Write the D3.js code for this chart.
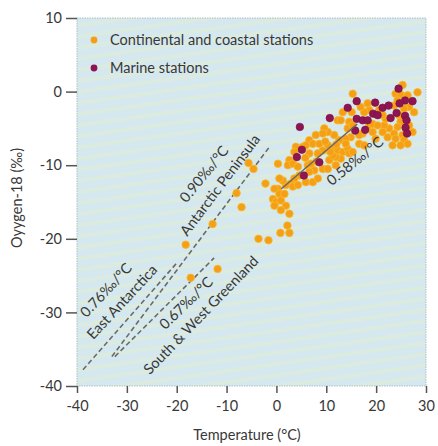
<!DOCTYPE html>
<html>
<head>
<meta charset="utf-8">
<script src="https://cdn.jsdelivr.net/npm/d3@7"></script>
<style>
  body { margin: 0; background: #fff; }
  text { font-family: Lato, "Open Sans", sans-serif; fill: #383838; font-weight: 400; }
</style>
</head>
<body>
<svg id="viz"></svg>
<script>
// --- Data (temperature °C, oxygen-18 ‰) ---
const continental = [
  [-18.2,-20.8],[-17.2,-25.3],[-11.8,-24.1],[-12.8,-18.0],[-5.6,-9.7],[-4.6,-10.5],
  [-2.2,-12.5],[-8.0,-13.8],[-7.0,-15.7],[-3.6,-20.0],[-1.6,-20.2],[0.8,-19.2],
  [2.2,-18.2],[2.6,-19.2],
  [25.3,0.9],[28.3,-0.1],[23.9,-0.3],[24.9,-0.4],[26.3,-0.5],[24.3,-1.2],[23.6,-1.9],
  [26.6,-2.1],[25.6,-2.3],[27.6,-2.8],[24.6,-3.2],[24.9,-4.1],[26.6,-4.6],[24.3,-4.8],
  [27.3,-5.5],[25.3,-5.9],[25.6,-6.6],[26.3,-7.1],[23.6,-5.7],[22.6,-5.0],[21.6,-4.6],
  [21.9,-3.7],[21.3,-3.2],[20.6,-2.5],[18.6,-2.5],[17.6,-2.8],[16.9,-2.1],[18.3,-1.6],
  [15.3,-0.3],[15.1,-2.8],[13.3,-2.8],[12.3,-3.9],[12.9,-3.9],[14.6,-4.1],[14.3,-5.0],
  [15.3,-4.6],[18.6,-4.6],[19.3,-4.4],[20.3,-4.6],[19.3,-5.5],[19.9,-6.4],[21.3,-5.5],
  [22.3,-6.2],[17.3,-5.7],[16.6,-5.9],[14.9,-6.2],[13.9,-6.4],[12.6,-6.6],[11.6,-5.9],
  [10.3,-5.5],[9.6,-5.0],[9.3,-5.7],[7.9,-5.9],[6.6,-6.6],[7.3,-7.1],[8.6,-7.1],
  [10.3,-7.3],[11.3,-7.8],[12.3,-8.0],[13.3,-8.2],[14.3,-7.8],[14.6,-8.4],[12.9,-9.1],
  [11.9,-8.9],[10.6,-9.3],[9.3,-8.0],[8.3,-8.4],[6.6,-8.4],[5.3,-7.5],[3.9,-7.5],
  [3.6,-8.2],[2.6,-9.3],[2.3,-10.0],[0.3,-9.8],[3.3,-9.8],[4.3,-10.2],[6.3,-10.0],
  [6.9,-9.8],[7.6,-10.7],[9.3,-10.5],[10.3,-10.5],[6.6,-10.9],[4.6,-11.4],[3.6,-11.8],
  [2.9,-12.5],[1.9,-12.7],[1.3,-12.1],[0.6,-11.8],[0.3,-13.2],[-0.4,-13.2],[0.6,-13.9],
  [1.6,-13.9],[-0.7,-14.6],[-0.1,-15.0],[-0.4,-15.5],[0.9,-14.8],[1.9,-15.5],[0.9,-16.1],
  [2.6,-16.6],[3.3,-12.9],[4.3,-12.7],[5.9,-12.3],[7.3,-12.3],[8.3,-11.8],[11.9,-10.0],
  [11.3,-8.7],[15.3,-8.2],[13.9,-7.1],[16.6,-7.1],[17.6,-7.3],[23.9,-6.4],[23.3,-7.3],
  [24.9,-7.3],[9.8,-6.8],[8.0,-9.5],[12.0,-7.2],[10.8,-8.2],[5.8,-9.0],[5.9,-7.3]
];

const marine = [
  [24.5,0.4],[16.1,-1.3],[19.8,-1.5],[14.3,-2.2],[21.3,-2.2],[22.5,-1.9],[25.8,-1.2],
  [27.3,-1.3],[24.7,-1.6],[19.4,-3.0],[20.3,-3.2],[24.1,-2.9],[10.7,-3.6],[16.1,-3.7],
  [17.3,-3.9],[18.3,-3.9],[22.9,-3.6],[25.8,-3.3],[26.1,-3.9],[25.9,-4.9],[26.2,-5.7],
  [15.8,-5.3],[17.8,-5.2],[4.7,-4.8],[5.1,-7.9],[4.1,-8.9],[8.6,-9.6],[5.5,-11.4]
];

// gradient lines: [x1, y1, x2, y2]
const eastAntarctica = [-38.8, -37.8, -20, -23.3];
const peninsula = [-33, -36, -1.5, -7.6];
const greenland = [-32.4, -36.0, -12.5, -22.6];
const trend058 = [1, -13.2, 16.2, -4.4];

const xTicks = [-40, -30, -20, -10, 0, 10, 20, 30];
const yTicks = [-40, -30, -20, -10, 0, 10];

const legendItems = ["Continental and coastal stations", "Marine stations"];

// --- Setup ---
const width = 438, height = 446;
const svg = d3.select("#viz").attr("width", width).attr("height", height);

const x = d3.scaleLinear().domain([-40, 30]).range([77, 426]);
const y = d3.scaleLinear().domain([-40, 10]).range([386, 18]);

const defs = svg.append("defs");
const pat = defs.append("pattern")
  .attr("id", "stripes")
  .attr("width", 12).attr("height", 11)
  .attr("patternUnits", "userSpaceOnUse")
  .attr("patternTransform", "rotate(-8)");
pat.append("rect").attr("width", 12).attr("height", 11).attr("fill", "#d5e8ef");
pat.append("rect").attr("y", 1).attr("width", 12).attr("height", 4).attr("fill", "#dcebdf");

// --- Plot background ---
svg.append("rect")
  .attr("x", x(-40)).attr("y", y(10))
  .attr("width", x(30) - x(-40)).attr("height", y(-40) - y(10))
  .attr("fill", "url(#stripes)")
  .attr("stroke", "#aebfc5")
  .attr("stroke-width", 1)
  .attr("stroke-dasharray", "1.5,1");

// --- Axes ---
const yAxis = svg.append("g")
  .attr("transform", `translate(${x(-40)},0)`)
  .call(d3.axisLeft(y).tickValues(yTicks).tickSize(11).tickPadding(4));
const xAxis = svg.append("g")
  .attr("transform", `translate(0,${y(-40)})`)
  .call(d3.axisBottom(x).tickValues(xTicks).tickSize(7).tickPadding(8));

[xAxis, yAxis].forEach(g => {
  g.select(".domain").remove();
  g.selectAll(".tick line").attr("stroke", "#555").attr("stroke-width", 1.5);
  g.selectAll(".tick text")
    .attr("font-size", 14.5)
    .attr("font-family", "Lato, sans-serif")
    .attr("fill", "#383838")
    .text(d => d < 0 ? "-" + Math.abs(d) : d);
});

// axis titles
svg.append("text")
  .attr("x", 247).attr("y", 440)
  .attr("text-anchor", "middle")
  .attr("font-size", 14.5)
  .text("Temperature (°C)");

svg.append("text")
  .attr("transform", "translate(22,198) rotate(-90)")
  .attr("text-anchor", "middle")
  .attr("font-size", 14.5)
  .text("Oyygen-18 (‰)");

// --- Dashed gradient lines ---
const dashed = [eastAntarctica, peninsula, greenland];
svg.append("g").selectAll("line")
  .data(dashed)
  .join("line")
  .attr("x1", d => x(d[0])).attr("y1", d => y(d[1]))
  .attr("x2", d => x(d[2])).attr("y2", d => y(d[3]))
  .attr("stroke", "#6b6b6b")
  .attr("stroke-width", 1.6)
  .attr("stroke-dasharray", "5,3");

// --- Points ---
svg.append("g").selectAll("circle")
  .data(continental)
  .join("circle")
  .attr("cx", d => x(d[0])).attr("cy", d => y(d[1]))
  .attr("r", 3.8)
  .attr("fill", "#f59e18")
  .attr("stroke", "#f6bb2c")
  .attr("stroke-width", 0.8);

svg.append("g").selectAll("circle")
  .data(marine)
  .join("circle")
  .attr("cx", d => x(d[0])).attr("cy", d => y(d[1]))
  .attr("r", 3.8)
  .attr("fill", "#8c1552")
  .attr("stroke", "#7a1045")
  .attr("stroke-width", 0.6);

// --- Marine trend line ---
svg.append("line")
  .attr("x1", x(trend058[0])).attr("y1", y(trend058[1]))
  .attr("x2", x(trend058[2])).attr("y2", y(trend058[3]))
  .attr("stroke", "#666")
  .attr("stroke-width", 1.5);

// --- Annotations ---
const notes = [
  { t: "0.76‰/°C", cx: 106, cy: 290, a: -47 },
  { t: "East Antarctica", cx: 122, cy: 302, a: -47 },
  { t: "0.90‰/°C", cx: 204, cy: 174, a: -51 },
  { t: "Antarctic Peninsula", cx: 220, cy: 185, a: -53 },
  { t: "0.67‰/°C", cx: 186, cy: 303, a: -44 },
  { t: "South & West Greenland", cx: 201, cy: 315, a: -46 },
  { t: "0.58‰/°C", cx: 355, cy: 161, a: -39 }
];
svg.append("g").selectAll("text")
  .data(notes)
  .join("text")
  .attr("transform", d => `translate(${d.cx},${d.cy}) rotate(${d.a})`)
  .attr("text-anchor", "middle")
  .attr("dy", "0.35em")
  .attr("font-size", 14.5)
  .text(d => d.t);

// --- Legend ---
const legend = svg.append("g");
const legendColors = ["#f59e18", "#8c1552"];
legendItems.forEach((label, i) => {
  legend.append("circle")
    .attr("cx", 94).attr("cy", 40 + i * 28)
    .attr("r", 3.4)
    .attr("fill", legendColors[i]);
  legend.append("text")
    .attr("x", 110).attr("y", 45 + i * 28)
    .attr("font-size", 14.5)
    .text(label);
});
</script>
</body>
</html>
